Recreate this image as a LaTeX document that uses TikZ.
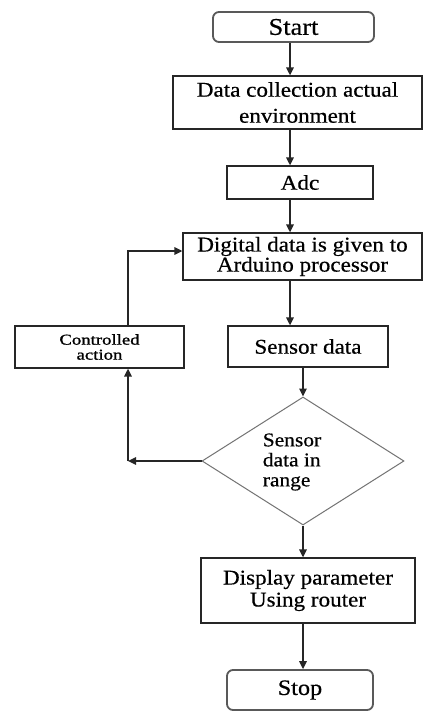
\documentclass[tikz,border=0pt]{standalone}
\usepackage{fontspec}
\setmainfont[FakeStretch=1.1,FakeBold=0.5]{Liberation Serif}
\newfontfamily\ctrlfont[FakeStretch=1.25,FakeBold=1.2]{Liberation Serif}
\usetikzlibrary{shapes.geometric,arrows.meta}
\begin{document}
\begin{tikzpicture}[x=1pt,y=-1pt,
  box/.style={draw=black!85,line width=1.3pt,inner sep=0pt,align=center,font=\fontsize{21}{21}\selectfont},
  term/.style={draw=black!65,line width=1.8pt,rounded corners=6pt,inner sep=0pt,font=\fontsize{22}{24}\selectfont},
  decision/.style={diamond,draw=black!55,line width=1pt,inner sep=0pt},
  arr/.style={line width=1.6pt,draw=black!85,-{Triangle[length=8pt,width=7.5pt]}}]
\fill[white] (0,0) rectangle (423,714);
\useasboundingbox (0,0) rectangle (423,714);
\node[term,minimum width=161pt,minimum height=30pt,font=\fontsize{24}{26}\selectfont] (start) at (293.5,27) {Start};
\node[box,minimum width=249pt,minimum height=53pt,font=\fontsize{21}{26}\selectfont] (data) at (297.5,102.5) {Data collection actual\\environment};
\node[box,minimum width=146pt,minimum height=33pt] (adc) at (300,182.5) {Adc};
\node[box,minimum width=239pt,minimum height=47pt,font=\fontsize{21}{18}\selectfont] (digital) at (302.5,256.5) {Digital data is given to\\Arduino processor};
\node[box,minimum width=169pt,minimum height=42pt,font=\ctrlfont\fontsize{15}{15}\selectfont] (ctrl) at (99.5,347) {Controlled\\action};
\node[box,minimum width=160pt,minimum height=41pt] (sensor) at (308,346.5) {Sensor data};
\node[decision,minimum width=202pt,minimum height=128pt] (dia) at (303,461) {};
\node[align=left,inner sep=0pt,font=\fontsize{19.5}{20}\selectfont] (dtext) at (292,462) {Sensor\\data in\\range};
\node[box,minimum width=214pt,minimum height=65pt,font=\fontsize{21}{22}\selectfont] (display) at (308,590.5) {Display parameter\\Using router};
\node[term,minimum width=146pt,minimum height=40pt] (stop) at (300,690) {Stop};
\coordinate (c1) at (290,0);
\coordinate (c2) at (303,0);
\coordinate (c3) at (128,0);
\coordinate (c4) at (0,251);
\draw[arr] (start.south -| c1) -- (data.north -| c1);
\draw[arr] (data.south -| c1) -- (adc.north -| c1);
\draw[arr] (adc.south -| c1) -- (digital.north -| c1);
\draw[arr] (digital.south -| c1) -- (sensor.north -| c1);
\draw[arr] (sensor.south -| c2) -- (dia.north);
\draw[arr] (dia.south) -- (display.north -| dia.south);
\draw[arr] (display.south -| dia.south) -- (stop.north -| dia.south);
\coordinate (corner) at (dia.west -| c3);
\draw[arr] (dia.west) -- (corner);
\draw[arr] (corner) -- (ctrl.south -| c3);
\draw[arr] (ctrl.north -| c3) |- (digital.west |- c4);
\end{tikzpicture}
\end{document}
